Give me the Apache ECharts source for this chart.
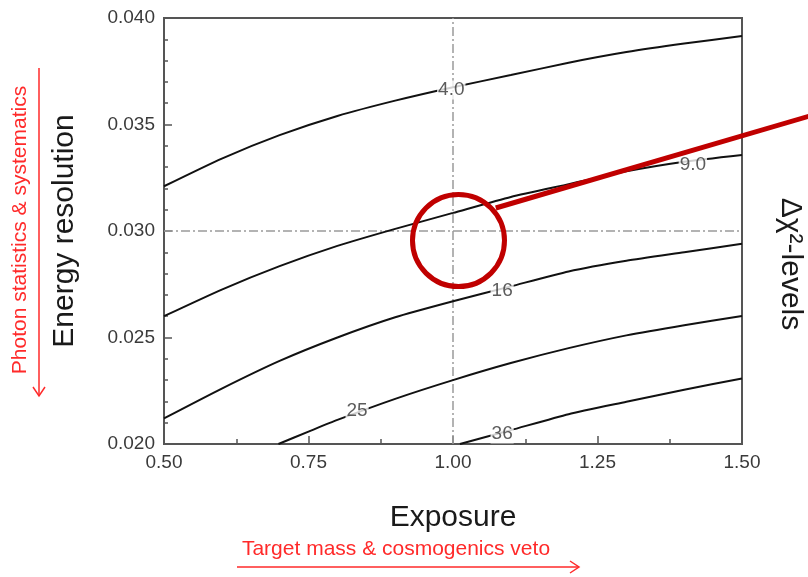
<!DOCTYPE html>
<html>
<head>
<meta charset="utf-8">
<script src="https://cdn.jsdelivr.net/npm/echarts@6/dist/echarts.min.js"></script>
<style>html,body{margin:0;padding:0;background:#fff;}#c{width:808px;height:577px;}</style>
</head>
<body>
<div id="c"></div>
<script>
// ---- data ----
const xTicks = [0.50, 0.75, 1.00, 1.25, 1.50];
const yTicks = [0.020, 0.025, 0.030, 0.035, 0.040];

const c4x  = [0.5, 0.6, 0.7, 0.8, 0.9, 1.0, 1.1, 1.2, 1.3, 1.4, 1.5];
const c4y  = [0.0321, 0.0334, 0.0345, 0.0354, 0.03612, 0.03675, 0.03732, 0.0379, 0.0384, 0.0388, 0.03915];
const c9x  = [0.5, 0.6, 0.7, 0.8, 0.9, 1.0, 1.1, 1.2, 1.3, 1.4, 1.5];
const c9y  = [0.0260, 0.02725, 0.02835, 0.0293, 0.0301, 0.03085, 0.0316, 0.0322, 0.0328, 0.03325, 0.03357];
const c16x = [0.5, 0.6, 0.7, 0.8, 0.9, 1.0, 1.1, 1.2, 1.3, 1.4, 1.5];
const c16y = [0.0212, 0.0226, 0.0239, 0.0250, 0.02595, 0.0267, 0.0274, 0.0281, 0.0286, 0.0290, 0.0294];
const c25x = [0.698, 0.75, 0.8, 0.9, 1.0, 1.1, 1.2, 1.3, 1.4, 1.5];
const c25y = [0.0200, 0.02058, 0.02113, 0.02212, 0.02300, 0.02380, 0.02450, 0.02510, 0.02558, 0.02601];
const c36x = [1.012, 1.1, 1.2, 1.3, 1.4, 1.5];
const c36y = [0.0200, 0.02065, 0.0214, 0.02198, 0.02255, 0.02308];

const levelNames  = ['4.0', '9.0', '16', '25', '36'];
const labelX = [0.997, 1.415, 1.085, 0.834, 1.085];
const labelY = [0.03662, 0.0331, 0.02718, 0.02155, 0.02047];

const refX = 1.00;
const refY = 0.030;

const markCenter = [1.0095, 0.02955];
const redLineX = [1.074, 1.66];
const redLineY = [0.03108, 0.03574];

// ---- chart ----
const chart = echarts.init(document.getElementById('c'), null, {renderer: 'canvas'});
const FONT = 'Liberation Sans, Arial, sans-serif';
const RED = '#ff2a2a';
const DARKRED = '#c00000';
const pair = (xs, ys) => xs.map((x, i) => [x, ys[i]]);
const curveStyle = {color: '#111', width: 2};
function contour(xs, ys) {
  return {type: 'line', data: pair(xs, ys), smooth: 0.2, showSymbol: false,
          symbol: 'none', lineStyle: curveStyle, z: 3, silent: true};
}
const dash = {color: '#9a9a9a', width: 1.5, type: [9, 3, 2, 3]};

const option = {
  backgroundColor: '#fff',
  animation: false,
  grid: {left: 164, right: 66, top: 18, bottom: 133, show: true, borderColor: '#555', borderWidth: 2, backgroundColor: '#fff'},
  xAxis: {
    type: 'value', min: xTicks[0], max: xTicks[xTicks.length - 1], interval: 0.25,
    name: 'Exposure', nameLocation: 'middle', nameGap: 59,
    nameTextStyle: {fontSize: 30, color: '#1a1a1a', fontFamily: FONT},
    axisLine: {show: true, lineStyle: {color: '#555', width: 2}},
    axisTick: {show: true, inside: true, length: 8, lineStyle: {color: '#555', width: 1.5}},
    minorTick: {show: true, splitNumber: 2, length: 5, lineStyle: {color: '#555', width: 1.5}},
    splitLine: {show: false},
    axisLabel: {fontSize: 19, color: '#3a3a3a', fontFamily: FONT, margin: 9, formatter: v => v.toFixed(2)}
  },
  yAxis: {
    type: 'value', min: yTicks[0], max: yTicks[yTicks.length - 1], interval: 0.005,
    name: 'Energy resolution', nameLocation: 'middle', nameGap: 84, nameRotate: 90,
    nameTextStyle: {fontSize: 30, color: '#1a1a1a', fontFamily: FONT},
    axisLine: {show: true, lineStyle: {color: '#555', width: 2}},
    axisTick: {show: true, inside: true, length: 8, lineStyle: {color: '#555', width: 1.5}},
    minorTick: {show: true, splitNumber: 5, length: 4, lineStyle: {color: '#555', width: 1.5}},
    splitLine: {show: false},
    axisLabel: {fontSize: 19, color: '#3a3a3a', fontFamily: FONT, margin: 9, formatter: v => v.toFixed(3)}
  },
  series: [
    {type: 'line', data: [[refX, yTicks[0]], [refX, yTicks[yTicks.length - 1]]], symbol: 'none', lineStyle: dash, z: 2, silent: true},
    {type: 'line', data: [[xTicks[0], refY], [xTicks[xTicks.length - 1], refY]], symbol: 'none', lineStyle: dash, z: 2, silent: true},
    contour(c4x, c4y),
    contour(c9x, c9y),
    contour(c16x, c16y),
    contour(c25x, c25y),
    contour(c36x, c36y),
    {
      type: 'scatter', symbolSize: 0, z: 5, silent: true,
      data: labelX.map((x, i) => ({value: [x, labelY[i]], name: levelNames[i]})),
      label: {show: true, position: 'inside', formatter: p => p.name, fontSize: 19, color: '#333',
              fontFamily: FONT, backgroundColor: '#fff', padding: [0, 1]}
    },
    {
      type: 'scatter', data: [markCenter], symbol: 'circle', symbolSize: 92, z: 9, silent: true,
      itemStyle: {color: 'rgba(0,0,0,0)', borderColor: DARKRED, borderWidth: 5, opacity: 1}
    }
  ],
  graphic: [
    {type: 'text', x: 790, y: 264, rotation: -Math.PI / 2, silent: true,
     style: {text: 'Δχ²-levels', fontSize: 30, fill: '#1a1a1a', fontFamily: FONT, align: 'center', verticalAlign: 'middle'}},
    {type: 'text', x: 20, y: 230, rotation: Math.PI / 2, silent: true,
     style: {text: 'Photon statistics & systematics', fontSize: 21, fill: RED, fontFamily: FONT, align: 'center', verticalAlign: 'middle'}},
    {type: 'line', silent: true, shape: {x1: 39, y1: 68, x2: 39, y2: 396}, style: {stroke: RED, lineWidth: 1.5}},
    {type: 'polyline', silent: true, shape: {points: [[33, 387], [39, 396], [45, 387]]}, style: {stroke: RED, lineWidth: 1.5, fill: null}},
    {type: 'text', x: 396, y: 549, silent: true,
     style: {text: 'Target mass & cosmogenics veto', fontSize: 21, fill: RED, fontFamily: FONT, align: 'center', verticalAlign: 'middle'}},
    {type: 'line', silent: true, shape: {x1: 237, y1: 567, x2: 579, y2: 567}, style: {stroke: RED, lineWidth: 1.5}},
    {type: 'polyline', silent: true, shape: {points: [[570, 561], [579, 567], [570, 573]]}, style: {stroke: RED, lineWidth: 1.5, fill: null}}
  ]
};
chart.setOption(option);

// red pointer line: mapped through the chart's own scales, drawn beyond the grid
const p0 = chart.convertToPixel({gridIndex: 0}, [redLineX[0], redLineY[0]]);
const p1 = chart.convertToPixel({gridIndex: 0}, [redLineX[1], redLineY[1]]);
chart.setOption({
  graphic: option.graphic.concat([
    {type: 'line', silent: true, z: 100, shape: {x1: p0[0], y1: p0[1], x2: p1[0], y2: p1[1]},
     style: {stroke: DARKRED, lineWidth: 5}}
  ])
});
</script>
</body>
</html>
